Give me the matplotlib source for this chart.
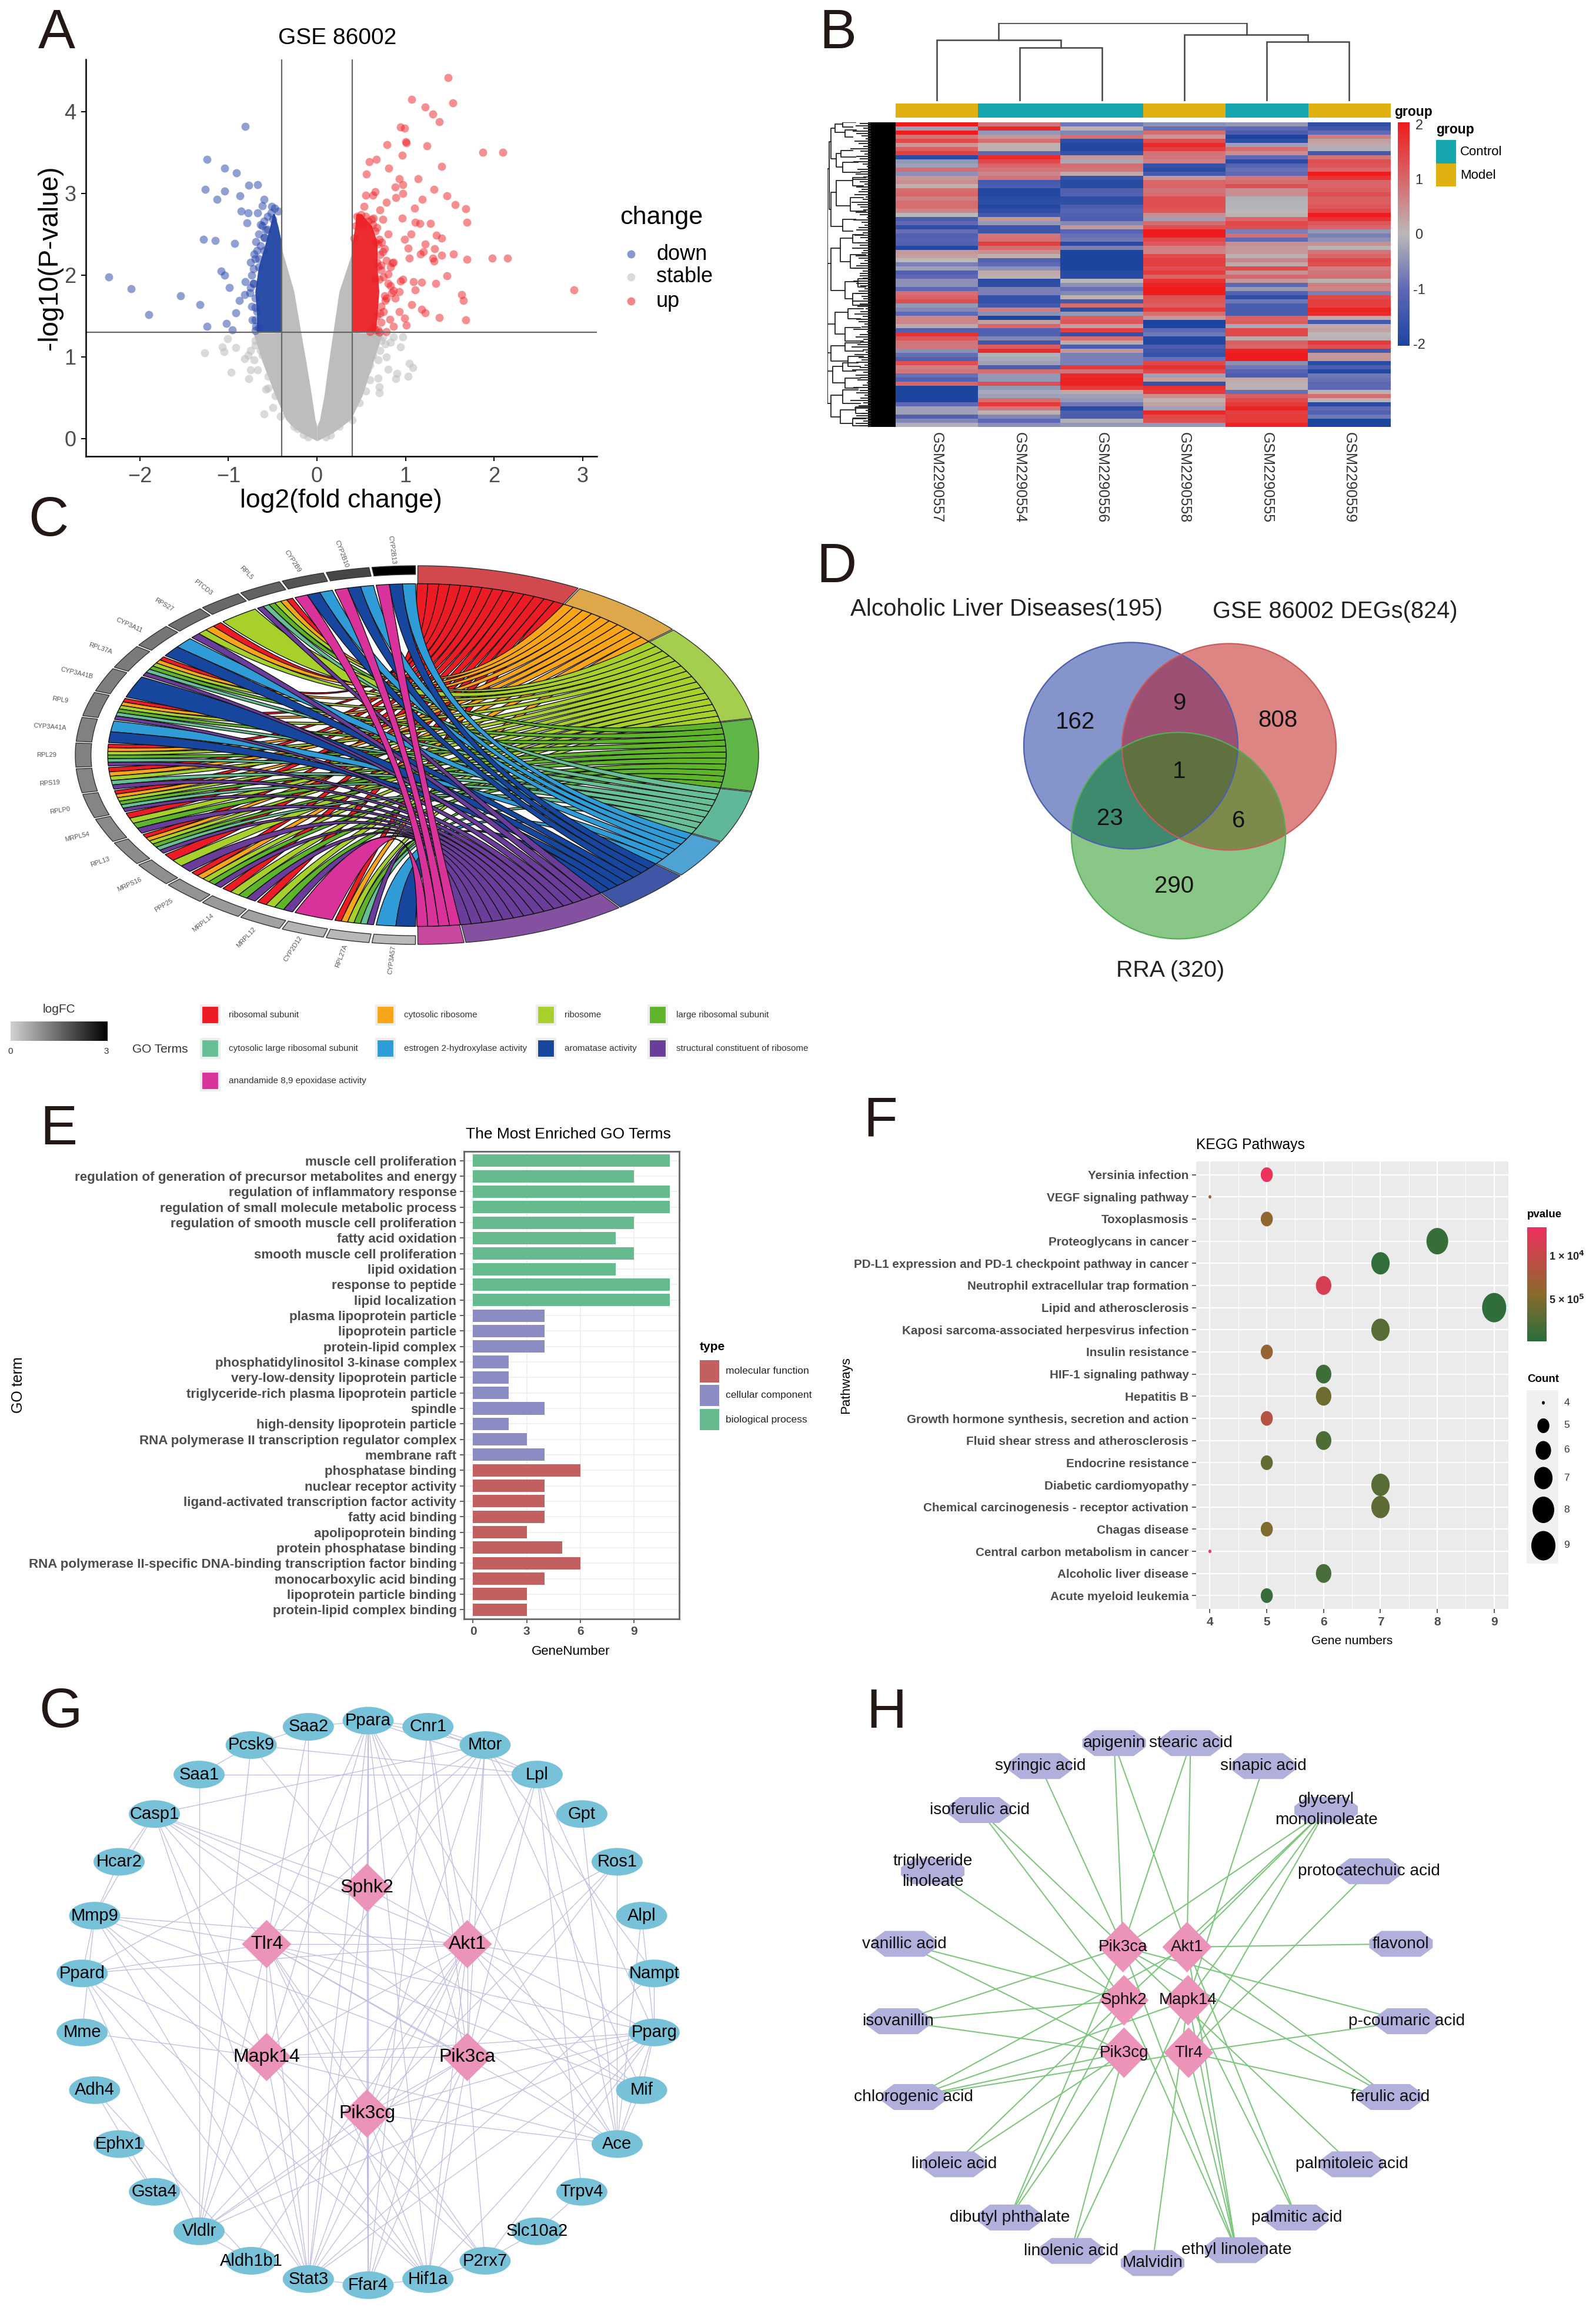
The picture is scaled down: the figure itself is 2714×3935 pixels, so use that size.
import numpy as np
import matplotlib
matplotlib.use("Agg")
import matplotlib.pyplot as plt
from matplotlib.colors import LinearSegmentedColormap
from matplotlib.markers import MarkerStyle
from matplotlib.patches import Ellipse, PathPatch, Polygon, Rectangle
from matplotlib.path import Path
from matplotlib.transforms import Affine2D

plt.rcParams["font.family"] = ["Liberation Sans", "DejaVu Sans"]

W, H = 2714, 3935

# A: volcano plot
up_x = [1.48, 1.07, 1.53, 1.22, 1.31, 1.38, .94, .99, 1.00, 1.01, .79, 1.24, 1.87, 2.10, .96, .67, .59, .81, 1.41, .56,
        1.14, .93, .97, .88, 1.32, .66, .97, .63, .55, 1.47, .89, 1.19, .78, 1.56, .53, 1.10, .71, 1.68, .96, .74, .62,
        1.11, 1.16, 1.28, 1.69, .80, 1.06, 1.35, 1.41, .99, .69, 1.22, 1.03, 1.33, 1.20, 1.17, 1.41, 1.54, 1.04, 1.31,
        1.32, 1.69, 1.98, 2.15, .85, .69, 1.47, .97, .94, 1.09, 1.18, 1.34, .83, 1.11, .93, 1.63, 2.90, 1.65, 1.07, .93,
        1.18, 1.22, 1.38, 1.68, .99, .82, 1.01, .86, .78, .66, .74, .80, .86, .77, .71, .69, .72, .64, .76, .70,
        .45, .50, .55, .48, .58, .63, .68, .52, .70, .73, .66, .76, .71, .78, .68, .72, .83, .86, .75, .66, .80, .84, .88,
        .78, .72, .75, .68, .72, .64, .66, .60, .70, .42, .44]
up_y = [4.42, 4.15, 4.11, 4.06, 3.97, 3.88, 3.81, 3.80, 3.63, 3.62, 3.60, 3.58, 3.50, 3.50, 3.47, 3.42, 3.39, 3.31, 3.33,
        3.24, 3.18, 3.18, 3.11, 3.08, 3.05, 3.02, 3.00, 2.98, 2.98, 2.97, 2.95, 2.93, 2.89, 2.86, 2.84, 2.82, 2.80, 2.81,
        2.70, 2.68, 2.68, 2.65, 2.63, 2.63, 2.65, 2.50, 2.50, 2.49, 2.45, 2.44, 2.38, 2.38, 2.33, 2.32, 2.29, 2.26, 2.24,
        2.26, 2.21, 2.21, 2.17, 2.19, 2.21, 2.21, 2.15, 2.11, 1.99, 1.95, 1.93, 1.92, 1.91, 1.90, 1.87, 1.82, 1.80, 1.76,
        1.82, 1.69, 1.64, 1.55, 1.58, 1.54, 1.48, 1.45, 1.47, 1.46, 1.39, 1.37, 1.31, 2.54, 2.29, 2.01, 1.81, 1.69, 1.53,
        1.33, 2.12, 2.70, 1.75, 1.95,
        2.72, 2.74, 2.72, 2.66, 2.66, 2.62, 2.58, 2.60, 2.44, 2.40, 2.40, 2.32, 2.25, 2.18, 2.16, 2.06, 2.10, 2.16, 1.98, 1.95,
        1.90, 1.78, 1.72, 1.72, 1.62, 1.55, 1.50, 1.42, 1.38, 1.33, 1.31, 1.30, 2.45, 2.60]
down_x = [-.81, -1.24, -1.04, -.91, -1.26, -1.04, -.77, -.67, -.87, -1.13, -.60, -.62, -.51, -.86, -.78, -.67, -.79, -.64,
          -1.28, -1.15, -.93, -.69, -.59, -.71, -.75, -1.08, -1.04, -.81, -.99, -.75, -2.35, -2.10, -1.54, -1.90, -1.32,
          -.82, -.88, -.92, -1.02, -1.24, -.96, -.69, -.72, -.70, -.66, -.73, -.58, -.60,
          -.48, -.52, -.56, -.60, -.50, -.62, -.56, -.66, -.60, -.64, -.68, -.70, -.72, -.66, -.74, -.72, -.76, -.70, -.74,
          -.68, -.70, -.66, -.70, -.44]
down_y = [3.82, 3.42, 3.31, 3.25, 3.05, 3.03, 3.10, 3.11, 2.97, 2.93, 2.93, 2.85, 2.84, 2.78, 2.76, 2.76, 2.64, 2.62,
          2.44, 2.42, 2.39, 2.41, 2.46, 2.26, 2.16, 2.05, 2.00, 1.92, 1.85, 1.85, 1.98, 1.83, 1.75, 1.52, 1.64, 1.76,
          1.69, 1.54, 1.41, 1.37, 1.33, 1.37, 1.90, 1.60, 2.20, 1.45, 2.55, 2.30,
          2.82, 2.76, 2.72, 2.66, 2.68, 2.60, 2.56, 2.50, 2.46, 2.36, 2.30, 2.20, 2.08, 2.10, 2.00, 1.90, 1.78, 1.72, 1.62,
          1.55, 1.45, 1.36, 1.32, 2.78]
stable_x = [-1.01, -1.07, -.92, -1.05, -1.27, -.97, -.75, -.77, -.60, -.50, -.70, -.64, -.58, -.71, -.67, -.55, -.58, -.47,
            .86, .97, .77, .94, .71, .69, .80, 1.04, 1.08, .90, 1.03, .89, .69, .70, .70, .48, .48, .40, -.26, -.41, -.35,
            -.52, .57, .63, .48, .57, .74, .83, -.61, -.52, -.70, -.75,
            -.45, -.55, -.62, -.40, -.48, -.55, -.42, -.38, -.30, -.22, -.15, -.10, -.66, -.78, -.82,
            .45, .55, .60, .52, .45, .40, .32, .25, .15, .10, .66, .72, .78, .60, .55]
stable_y = [1.22, 1.12, 1.11, 1.06, 1.05, .81, .84, .73, .30, .38, 1.14, 1.08, .96, .96, .84, .76, .60, .52,
            1.24, 1.24, 1.16, 1.12, 1.08, .96, .85, .92, .87, .80, .76, .73, .74, .63, .56, .66, .44, .23, .15, .27, .40,
            .92, .84, 1.02, 1.08, 1.16, 1.24, 1.18, 1.18, 1.24, 1.20, 1.08,
            1.25, 1.10, 1.02, .95, .80, .62, .62, .45, .30, .12, .05, .02, 1.25, 1.02, .98,
            1.26, 1.00, .90, .70, .58, .40, .28, .15, .04, .02, 1.15, 1.20, 1.00, .72, .58]
# edges of the solid part of the cloud
band_y = [-.03, .07, .15, .23, .52, .92, 1.29, 1.29, 1.8, 2.29, 2.42]
band_left_out = [0, -.18, -.28, -.35, -.47, -.61, -.72, -.40, -.40, -.40, -.40]
band_left_in = [0, 0, 0, -.02, -.06, -.12, -.18, -.18, -.26, -.39, -.40]
band_right_in = [0, 0, 0, .03, .08, .13, .18, .18, .25, .40, .40]
band_right_out = [0, .18, .28, .38, .51, .63, .74, .40, .40, .40, .40]
dense_y = [1.30, 1.5, 1.8, 2.1, 2.4, 2.6, 2.75]
dense_up_left = [.40, .40, .40, .40, .40, .43, .44]
dense_up_right = [.66, .68, .70, .68, .68, .62, .50]
dense_down_left = [-.68, -.68, -.70, -.66, -.58, -.53, -.50]
dense_down_right = [-.40, -.40, -.40, -.40, -.40, -.44, -.48]

# B: heatmap, one list per sample, rows top to bottom
samples = ["GSM2290557", "GSM2290554", "GSM2290556", "GSM2290558", "GSM2290555", "GSM2290559"]
sample_group = ["Model", "Control", "Control", "Model", "Control", "Model"]
heat_557 = [2, -.3, 2, .8, 1.4, .4, 1.1, 1.5, -1.8, -.4, -.3, .9, -.5, .4, .5, .1, .9, 1, .7, .9, .9, .6, 0, -1.3, -1, -1.7,
            -.9, -1.2, -1.1, -1.2, -1.9, .4, .3, 0, -.7, -.3, -1.2,
            -1, -.5, -.5, -1, .9, 1, 1.3, -.4, -.6, -1, .6, .6, .2, -1.2, 1.7, 1.2, .8, .8, -.5, -.9, -1.2, 1.3, .7, .8, -.9,
            -1.2, 1, -2, -2, -2, -2, -1, -.3, -.3, -1.2, -.6, -.1]
heat_554 = [.8, 1.8, -.4, .4, .9, .1, .1, -1, 1.8, 1.4, 1, .8, .6, .8, -1.4, -1.3, -1.9, -1.9, -1.8, -1.7, -1.9, -1.7, -1.4,
            .4, -.4, -1.5, -1.5, .8, .9, 1.5, .9, .5, .1, -1.2, -1, -.5, .2,
            .1, -1.8, -1.7, -.7, -.7, -1.6, -1.6, -1.4, .7, -.5, -2, .3, 1, -1.2, -1.2, -.6, -1.5, 1.1, 1.8, -.1, -.2, -.3,
            -1.3, .9, -.4, -.4, 1.3, -.4, -.2, -.3, .9, 1.6, .8, .1, -.6, -1, -.5]
heat_556 = [-.8, .1, -.6, .9, -1.7, -1.9, -1.9, -1.6, .4, -.2, .9, .8, .2, -1.6, -1.8, -1.8, -1.2, -1.2, -1.7, -1.7, -1.3,
            -1.1, -1.2, -1.3, -.6, .4, -1.1, -.9, -.8, -1.8, -.7, -2, -2, -2, -2, -2, -1.8,
            -1.8, 0, -.5, -.9, -.6, .1, -1.4, .9, -1.7, -.4, 1.1, 1.2, .3, 1.5, -1.6, .9, .2, -1.3, .4, -.7, -.7, -.7, 1.6,
            .8, 1.8, 1.9, 1.9, 1.6, .2, -.3, -.4, -.8, -1.8, -1.3, -1.3, -.1, -.4]
heat_558 = [-.5, -.9, .9, .4, 1.3, 1.8, 1.5, .8, .8, .7, -1.6, -1.8, -1.4, .4, 1, 1, .8, .9, 1.3, 1.3, 1.3, 1.2, .5, -.3, .9,
            1.3, 2, 2, 1.4, 1.2, .7, .6, 1.4, 1.5, 1.5, 1.3, 1.5,
            1, 1.7, 1.9, 2, 2, 1.3, 1.2, 1.1, 1.6, .9, .4, -2, -2, -1, -.8, -1.9, -1.9, -1.3, -1.5, -1.6, -.9, 1.4, 1.7, 1.4,
            -.3, .3, -1.6, 1.7, 1.6, .5, .1, .3, -.3, 1.8, 1.4, 1.3, -.4]
heat_555 = [-.4, -1, -1.3, -2, -1.7, -.3, .9, .5, -1, -1.8, -1.1, -.9, -1, .8, .9, 1.3, .5, .5, -.1, -.05, -.05, 0, .1, 1, 1.4,
            1.3, -.7, .9, -1, .5, .4, .4, .1, .6, .2, 1.4, .5,
            1, .4, -1, -.4, -1.2, -1.7, -.8, -1.3, -1.3, -1.3, 1.1, 1.1, -.2, 1.4, 1.4, .2, 1.1, 1, 1.9, 2, 2, -.5, -.8, -1.1,
            -1.3, .2, .1, .1, -.9, 1.1, 1.4, 1.6, 1.9, 1.5, 1.6, 1.6, 1.9]
heat_559 = [-1.7, -1.5, -1, .7, .3, .2, -.1, -1.4, .8, 1.3, 1.2, 1, 2, 1.7, 1, 1, 1.1, 1.3, 1.1, 1.1, 1.2, 1.4, 2, 1.7, 1.2,
            1, -.4, -.7, -.5, .5, .1, .8, 1, 1.4, 1.3, .7, .8,
            .9, .1, .7, .6, -.7, 1.4, 1.5, 1.5, 1.9, 1.8, .2, -1.4, .2, .3, 0, .1, 1.6, 1.3, -1.4, .4, .4, -1.8, -1.3, -1.9,
            -.8, -.9, -1, -1, .1, .9, .1, -1.8, -1, -1.2, -.8, -2, -2]
col_merges = [(433, 595, 0, 0, 158), (270, 514, 0, 158, 182), (920, 1082, 0, 0, 176), (758, 1001, 0, 176, 197), (392, 880, 182, 197, 232)]
row_merges = [(55, 500, 58, 1000, 55), (58, 420, 62, 620, 62), (62, 380, 70, 470, 72), (70, 368, 85, 392, 90), (85, 362, 110, 376, 105),
              (90, 385, 112, 405, 105), (72, 455, 82, 495, 85), (82, 445, 105, 465, 110), (85, 480, 115, 510, 120), (62, 570, 72, 670, 85),
              (72, 535, 105, 610, 100), (105, 525, 130, 550, 125), (100, 585, 125, 625, 130), (85, 650, 110, 685, 105), (55, 780, 62, 1195, 55),
              (62, 735, 80, 860, 90), (80, 705, 105, 775, 100), (105, 695, 125, 720, 120), (100, 755, 130, 795, 125), (90, 835, 115, 885, 105),
              (115, 825, 135, 850, 130), (105, 870, 130, 905, 135), (55, 960, 70, 1045, 62), (70, 925, 95, 990, 90), (95, 915, 125, 945, 120),
              (90, 970, 120, 1010, 125), (62, 1025, 90, 1070, 95), (90, 1015, 120, 1040, 125), (95, 1055, 125, 1085, 120), (55, 1100, 65, 1195, 62),
              (65, 1085, 85, 1135, 90), (85, 1075, 115, 1100, 110), (90, 1120, 120, 1150, 115), (62, 1170, 85, 1235, 80), (85, 1155, 115, 1195, 120),
              (80, 1215, 110, 1255, 105), (110, 1205, 135, 1225, 130), (105, 1240, 130, 1262, 135)]
row_fringe = [118, 110, 125, 105, 112, 122, 130, 108, 116, 126, 100, 120, 128, 112, 118, 106, 124, 132, 114, 120, 110, 126,
              104, 118, 128, 112, 122, 116, 108, 130, 124, 102, 114, 120, 126, 110, 118, 132, 106, 122, 128, 116, 112, 124,
              108, 120, 130, 114, 118, 104, 126, 122, 110, 116, 128, 120, 112, 106, 124, 118]

# C: GO chord, genes listed clockwise from the bottom, terms clockwise from the top
go_terms = ["ribosomal subunit", "cytosolic ribosome", "ribosome", "large ribosomal subunit", "cytosolic large ribosomal subunit",
            "estrogen 2-hydroxylase activity", "aromatase activity", "structural constituent of ribosome", "anandamide 8,9 epoxidase activity"]
term_keys = ["red", "ora", "lim", "gre", "tea", "lbl", "dbl", "pur", "mag"]
ribbon_colors = ["#ed1c24", "#f9a51a", "#a8d02a", "#5fb52a", "#66bf95", "#2f9bd7", "#17469e", "#6a3d9a", "#d9329b"]
sector_colors = ["#d1484d", "#dda74a", "#a5cd4e", "#5fb548", "#5fb898", "#4ea2d4", "#3f55a5", "#85509f", "#c848a0"]
chord_genes = ["CYP3A57", "RPL27A", "CYP2D12", "MRPL12", "MRPL14", "PPP25", "MRPS16", "RPL13", "MRPL54", "RPLP0", "RPS19", "RPL29",
               "CYP3A41A", "RPL9", "CYP3A41B", "RPL37A", "CYP3A11", "RPS27", "PTCD3", "RPL5", "CYP2B9", "CYP2B10", "CYP2B13"]
gene_logfc = [.35, .38, .45, .7, .8, .9, .95, 1, 1.05, 1.1, 1.1, 1.15, 1.15, 1.2, 1.2, 1.25, 1.3, 1.4, 1.5, 1.6, 1.8, 2.0, 3.0]
ribo_full = ["pur", "tea", "gre", "lim", "ora", "red"]
gene_terms = [["dbl", "lbl"], ribo_full, ["mag"], ["pur", "gre", "lim", "red"], ["pur", "gre", "lim", "red"], ["pur", "gre", "lim", "ora", "red"],
              ["pur", "lim", "red"], ribo_full, ["pur", "gre", "lim", "red"], ribo_full, ["pur", "tea", "lim", "ora", "red"], ribo_full,
              ["dbl", "lbl"], ribo_full, ["dbl"], ribo_full, ["dbl", "lbl"], ["pur", "lim", "ora", "red"], ["lim"], ribo_full,
              ["mag", "dbl", "lbl"], ["mag", "dbl", "lbl"], ["mag", "dbl", "lbl"]]

# D: venn counts
venn_counts = ["162", "9", "808", "1", "23", "6", "290"]

# E: GO bars
go_labels = ["muscle cell proliferation", "regulation of generation of precursor metabolites and energy", "regulation of inflammatory response",
             "regulation of small molecule metabolic process", "regulation of smooth muscle cell proliferation", "fatty acid oxidation",
             "smooth muscle cell proliferation", "lipid oxidation", "response to peptide", "lipid localization", "plasma lipoprotein particle",
             "lipoprotein particle", "protein-lipid complex", "phosphatidylinositol 3-kinase complex", "very-low-density lipoprotein particle",
             "triglyceride-rich plasma lipoprotein particle", "spindle", "high-density lipoprotein particle", "RNA polymerase II transcription regulator complex",
             "membrane raft", "phosphatase binding", "nuclear receptor activity", "ligand-activated transcription factor activity", "fatty acid binding",
             "apolipoprotein binding", "protein phosphatase binding", "RNA polymerase II-specific DNA-binding transcription factor binding",
             "monocarboxylic acid binding", "lipoprotein particle binding", "protein-lipid complex binding"]
go_counts = [11, 9, 11, 11, 9, 8, 9, 8, 11, 11, 4, 4, 4, 2, 2, 2, 4, 2, 3, 4, 6, 4, 4, 4, 3, 5, 6, 4, 3, 3]
go_type = ["bp"] * 10 + ["cc"] * 10 + ["mf"] * 10
type_names = ["molecular function", "cellular component", "biological process"]

# F: KEGG bubbles
kegg_labels = ["Yersinia infection", "VEGF signaling pathway", "Toxoplasmosis", "Proteoglycans in cancer",
               "PD-L1 expression and PD-1 checkpoint pathway in cancer", "Neutrophil extracellular trap formation", "Lipid and atherosclerosis",
               "Kaposi sarcoma-associated herpesvirus infection", "Insulin resistance", "HIF-1 signaling pathway", "Hepatitis B",
               "Growth hormone synthesis, secretion and action", "Fluid shear stress and atherosclerosis", "Endocrine resistance",
               "Diabetic cardiomyopathy", "Chemical carcinogenesis - receptor activation", "Chagas disease", "Central carbon metabolism in cancer",
               "Alcoholic liver disease", "Acute myeloid leukemia"]
kegg_counts = [5, 4, 5, 8, 7, 6, 9, 7, 5, 6, 6, 5, 6, 5, 7, 7, 5, 4, 6, 5]
kegg_p = [13.1, 6.8, 6.1, .9, .7, 11.4, .5, 2.8, 6.5, 1.3, 4.2, 8.8, 2.2, 3.5, 2.8, 3.1, 5.2, 13.4, 1.9, .9]  # x 1e-5
count_levels = [4, 5, 6, 7, 8, 9]

# G and H: networks
ppi_outer = ["Ppara", "Cnr1", "Mtor", "Lpl", "Gpt", "Ros1", "Alpl", "Nampt", "Pparg", "Mif", "Ace", "Trpv4", "Slc10a2", "P2rx7", "Hif1a",
             "Ffar4", "Stat3", "Aldh1b1", "Vldlr", "Gsta4", "Ephx1", "Adh4", "Mme", "Ppard", "Mmp9", "Hcar2", "Casp1", "Saa1", "Pcsk9", "Saa2"]
ppi_hubs = ["Sphk2", "Akt1", "Pik3ca", "Pik3cg", "Mapk14", "Tlr4"]
ppi_hub_links = {
    "Akt1": ["Ppara", "Cnr1", "Mtor", "Lpl", "Casp1", "Mmp9", "Ppard", "Nampt", "Pparg", "Mif", "Ace", "Stat3", "Hif1a", "Ffar4", "Vldlr",
             "Aldh1b1", "Ros1", "Tlr4", "Sphk2", "Pik3ca", "Pik3cg", "Mapk14"],
    "Tlr4": ["Ppara", "Mtor", "Saa2", "Casp1", "Mmp9", "Ppard", "Pparg", "Mif", "Ace", "Stat3", "Hif1a", "P2rx7", "Vldlr", "Mapk14", "Pik3ca", "Pik3cg"],
    "Mapk14": ["Ppara", "Mtor", "Mmp9", "Casp1", "Ppard", "Mme", "Pparg", "Ace", "Stat3", "Hif1a", "P2rx7", "Vldlr", "Pik3ca"],
    "Pik3ca": ["Ppara", "Cnr1", "Mtor", "Lpl", "Ros1", "Pparg", "Stat3", "Hif1a", "Ffar4", "P2rx7", "Vldlr", "Mmp9", "Pik3cg"],
    "Pik3cg": ["Ppara", "Mtor", "Pparg", "Ros1", "Stat3", "Hif1a", "P2rx7", "Vldlr", "Ffar4", "Ace"],
    "Sphk2": ["Ppara", "Pcsk9", "Casp1", "Stat3", "Ffar4"],
}
ppi_other_links = [("Saa1", "Lpl"), ("Saa1", "Vldlr"), ("Saa1", "Pcsk9"), ("Pcsk9", "Saa2"), ("Saa2", "Ppara"), ("Ppara", "Cnr1"), ("Cnr1", "Mtor"),
                   ("Ppara", "Mtor"), ("Ppara", "Lpl"), ("Cnr1", "Lpl"), ("Pcsk9", "Lpl"), ("Pcsk9", "Vldlr"), ("Saa2", "Stat3"), ("Mtor", "Casp1"),
                   ("Mtor", "Ppard"), ("Lpl", "Pparg"), ("Lpl", "Ace"), ("Lpl", "Trpv4"), ("Cnr1", "Ffar4"), ("Ppara", "Ffar4"), ("Ppara", "Stat3"),
                   ("Ppara", "Hif1a"), ("Ppara", "Ace"), ("Gpt", "Ace"), ("Ros1", "Ace"), ("Alpl", "Pparg"), ("Alpl", "Ace"), ("Nampt", "Pparg"),
                   ("Nampt", "Mtor"), ("Nampt", "Stat3"), ("Pparg", "Stat3"), ("Pparg", "Hif1a"), ("Pparg", "P2rx7"), ("Pparg", "Vldlr"), ("Pparg", "Mif"),
                   ("Pparg", "Ace"), ("Mif", "Ace"), ("Mif", "Mtor"), ("Mif", "Casp1"), ("Ace", "Casp1"), ("Slc10a2", "P2rx7"), ("Slc10a2", "Trpv4"),
                   ("P2rx7", "Hif1a"), ("Hif1a", "Ffar4"), ("Ffar4", "Stat3"), ("Stat3", "Casp1"), ("Stat3", "Mmp9"), ("Stat3", "Ppard"), ("Hif1a", "Mmp9"),
                   ("Hif1a", "Ppard"), ("Vldlr", "Ppard"), ("Vldlr", "Aldh1b1"), ("Adh4", "Gsta4"), ("Adh4", "Aldh1b1"), ("Ephx1", "Gsta4"), ("Casp1", "Hcar2"),
                   ("Casp1", "Mmp9"), ("Hcar2", "Mmp9"), ("Mmp9", "Ppard"), ("Mmp9", "Mme")]

herb_nodes = {
    "apigenin": (590, 152), "stearic acid": (745, 152), "syringic acid": (440, 209), "sinapic acid": (893, 209), "isoferulic acid": (317, 318),
    "glyceryl\nmonolinoleate": (1020, 318), "triglyceride\nlinoleate": (222, 470), "protocatechuic acid": (1107, 470), "vanillic acid": (165, 650),
    "flavonol": (1172, 650), "isovanillin": (152, 842), "p-coumaric acid": (1184, 842), "chlorogenic acid": (183, 1030), "ferulic acid": (1150, 1030),
    "linoleic acid": (265, 1197), "palmitoleic acid": (1072, 1197), "dibutyl phthalate": (378, 1329), "palmitic acid": (960, 1329),
    "linolenic acid": (503, 1412), "ethyl linolenate": (838, 1410), "Malvidin": (668, 1442),
}
herb_hubs = {"Pik3ca": (608, 658), "Akt1": (738, 658), "Sphk2": (610, 790), "Mapk14": (740, 790), "Pik3cg": (610, 920), "Tlr4": (741, 920)}
herb_links = {
    "apigenin": ["Pik3ca", "Akt1"], "stearic acid": ["Pik3ca", "Akt1"], "syringic acid": ["Pik3ca"], "sinapic acid": ["Mapk14"],
    "isoferulic acid": ["Pik3ca", "Sphk2"], "glyceryl\nmonolinoleate": ["Pik3ca", "Akt1", "Sphk2", "Mapk14", "Tlr4"], "triglyceride\nlinoleate": ["Sphk2"],
    "protocatechuic acid": ["Tlr4"], "vanillic acid": ["Sphk2", "Pik3cg"], "flavonol": ["Akt1"], "isovanillin": ["Pik3ca", "Sphk2", "Pik3cg"],
    "p-coumaric acid": ["Pik3ca", "Tlr4"], "chlorogenic acid": ["Akt1", "Mapk14", "Pik3cg", "Tlr4"], "ferulic acid": ["Pik3ca", "Akt1", "Tlr4"],
    "linoleic acid": ["Pik3cg", "Sphk2"], "palmitoleic acid": ["Pik3ca"], "dibutyl phthalate": ["Pik3ca", "Pik3cg", "Sphk2"], "palmitic acid": ["Akt1", "Mapk14"],
    "linolenic acid": ["Pik3cg", "Mapk14"], "ethyl linolenate": ["Pik3ca", "Sphk2", "Mapk14", "Tlr4", "Akt1"], "Malvidin": ["Mapk14"],
}

fig = plt.figure(figsize=(W / 100, H / 100), dpi=100, facecolor="white")


def px_axes(x0, y0, x1, y1):
    return fig.add_axes([x0 / W, 1 - y1 / H, (x1 - x0) / W, (y1 - y0) / H])


# whole-page axes in pixels, used for networks, the chord ring, venn and free text
ov = fig.add_axes([0, 0, 1, 1])
ov.set_xlim(0, W)
ov.set_ylim(H, 0)
ov.axis("off")

for letter, lx, ly in [("A", 96, 58), ("B", 1425, 58), ("C", 82, 886), ("D", 1422, 966), ("E", 100, 1922), ("F", 1497, 1907), ("G", 103, 2913), ("H", 1507, 2913)]:
    ov.text(lx, ly, letter, fontsize=68, color="#231815", ha="center", va="center")

# ---- A
ax = px_axes(146, 101, 1015, 776)
blue, red, grey = "#2343a8", "#ee2026", "#bdbdbd"
ax.fill_betweenx(band_y, band_left_out, band_left_in, color=grey, lw=0)
ax.fill_betweenx(band_y, band_right_in, band_right_out, color=grey, lw=0)
ax.scatter(stable_x, stable_y, s=100, c=grey, alpha=.55, lw=0)
ax.fill_betweenx(dense_y, dense_up_left, dense_up_right, color="#ea2027", lw=0, alpha=.95)
ax.fill_betweenx(dense_y, dense_down_left, dense_down_right, color="#1f45a3", lw=0, alpha=.95)
ax.scatter(down_x, down_y, s=100, c=blue, alpha=.5, lw=0)
ax.scatter(up_x, up_y, s=100, c=red, alpha=.5, lw=0)
ax.axvline(-.4, color="#666666", lw=1.6)
ax.axvline(.4, color="#666666", lw=1.6)
ax.axhline(1.3, color="#666666", lw=1.6)
ax.set_xlim(-2.61, 3.16)
ax.set_ylim(-.218, 4.64)
ax.spines[["top", "right"]].set_visible(False)
ax.spines[["left", "bottom"]].set_linewidth(1.8)
ax.set_xticks(range(-2, 4))
ax.set_yticks(range(0, 5))
ax.tick_params(labelsize=26, labelcolor="#4d4d4d", length=6, width=1.4, pad=6)
ov.text(580, 851, "log2(fold change)", fontsize=32, ha="center", va="center")
ov.text(85, 438, "-log10(P-value)", fontsize=33, rotation=90, ha="center", va="center")
ov.text(574, 65, "GSE 86002", fontsize=28, ha="center", va="center")
ov.text(1054, 370, "change", fontsize=31, ha="left", va="center")
for name, col, ly in [("down", blue, 432), ("stable", grey, 471), ("up", red, 512)]:
    ov.scatter([1073], [ly], s=100, c=col, alpha=.55, lw=0)
    ov.text(1116, ly, name, fontsize=26, ha="left", va="center")

# ---- B
heat = np.array([heat_557, heat_554, heat_556, heat_558, heat_555, heat_559]).T
heat_cmap = LinearSegmentedColormap.from_list("heat", ["#1c45a0", "#5f68b5", "#b9b9b9", "#d9666a", "#ee1c1c"])
ax = px_axes(1523, 208, 2365, 726)
ax.imshow(heat, aspect="auto", cmap=heat_cmap, vmin=-2, vmax=2, interpolation="nearest")
ax.axis("off")
ax = px_axes(1523, 176, 2365, 200)
group_colors = {"Model": "#e0b010", "Control": "#16a6ad"}
for i, grp in enumerate(sample_group):
    ax.add_patch(Rectangle((i, 0), 1, 1, color=group_colors[grp], lw=0))
ax.set_xlim(0, 6)
ax.set_ylim(0, 1)
ax.axis("off")
# column dendrogram
ax = px_axes(1523, 39, 2365, 172)
for x1, x2, h1, h2, top in col_merges:
    ax.plot([x1, x1, x2, x2], [h1, top, top, h2], color="#444444", lw=1.8, solid_joinstyle="miter")
ax.set_xlim(189, 1164)
ax.set_ylim(0, 232)
ax.axis("off")
# row dendrogram with its dense black leaf block
ax = px_axes(1407, 208, 1523, 726)
fringe = row_fringe + row_fringe[::-1]
rows_y = np.linspace(365, 1262, len(fringe))
ax.hlines(rows_y, fringe, 140, color="#333333", lw=1.5)
for x, y1, x1, y2, x2 in row_merges:
    ax.plot([x1, x, x, x2], [y1, y1, y2, y2], color="#222222", lw=1.3)
ax.add_patch(Rectangle((135, 362), 54, 903, color="black", lw=0))
ax.set_xlim(55, 189)
ax.set_ylim(1265, 362)
ax.axis("off")
# colour bar
ax = px_axes(2377, 208, 2397, 588)
ax.imshow(np.linspace(2, -2, 256)[:, None], aspect="auto", cmap=heat_cmap, vmin=-2, vmax=2)
ax.axis("off")
for val, ly in zip(["2", "1", "0", "-1", "-2"], [214, 307, 400, 494, 587]):
    ov.text(2413, ly, val, fontsize=17, color="#333333", ha="center", va="center")
ov.text(2371, 191, "group", fontsize=16.5, fontweight="bold", ha="left", va="center")
ov.text(2442, 221, "group", fontsize=16.5, fontweight="bold", ha="left", va="center")
ov.add_patch(Rectangle((2442, 238), 34, 40, color=group_colors["Control"], lw=0))
ov.add_patch(Rectangle((2442, 278), 34, 39, color=group_colors["Model"], lw=0))
ov.text(2483, 259, "Control", fontsize=16, ha="left", va="center")
ov.text(2483, 298, "Model", fontsize=16, ha="left", va="center")
for i, name in enumerate(samples):
    ov.text(1523 + (i + .5) * 842 / 6, 735, name, fontsize=18, rotation=270, color="#333333", ha="center", va="top")

# ---- C
cx, cy, rx, ry = 709, 1284, 581, 322
r_ribbon = .905
r_gene = .954


def ring_xy(deg, r):
    t = np.radians(deg)
    return cx + rx * r * np.cos(t), cy - ry * r * np.sin(t)


def ring_sector(a, b, r0, r1, **kw):
    ts = np.linspace(a, b, 30)
    outer = [ring_xy(t, r1) for t in ts]
    inner = [ring_xy(t, r0) for t in ts[::-1]]
    ov.add_patch(Polygon(outer + inner, closed=True, **kw))


term_count = {k: sum(k in g for g in gene_terms) for k in term_keys}
total = sum(term_count.values())
term_start = {}
pos = 0
for k, col in zip(term_keys, sector_colors):
    a = 90 - 180 * pos / total
    b = 90 - 180 * (pos + term_count[k]) / total
    term_start[k] = a
    ring_sector(a - .15, b + .15, r_ribbon, 1, facecolor=col, edgecolor="#333333", lw=1)
    pos += term_count[k]

n_genes = len(chord_genes)
grey_fc = LinearSegmentedColormap.from_list("fc", ["#d2d2d2", "#000000"])
order_in_gene = ["mag", "pur", "dbl", "lbl", "tea", "gre", "lim", "ora", "red"]
term_step = 180 / total
used = {k: 0 for k in term_keys}
ribbons = []
# top genes take the first slot of each term
gene_slots = {}
for i in range(n_genes - 1, -1, -1):
    for k in gene_terms[i]:
        gene_slots[(i, k)] = used[k]
        used[k] += 1
for i, gene in enumerate(chord_genes):
    a0 = 270 - 180 * i / n_genes
    step = 180 / n_genes
    ring_sector(a0 - .25, a0 - step + .25, r_gene, 1, facecolor=grey_fc(gene_logfc[i] / 3), edgecolor="#333333", lw=1)
    mid = a0 - step / 2
    lx, ly = ring_xy(mid, 1.085)
    dx, dy = rx * np.cos(np.radians(mid)), ry * np.sin(np.radians(mid))
    ov.text(lx, ly, gene, fontsize=8, color="#555555", rotation=np.degrees(np.arctan2(dy, dx)) + 180, ha="center", va="center", rotation_mode="anchor")
    terms_here = [k for k in order_in_gene if k in gene_terms[i]]
    w = (step - .5) / len(terms_here)
    for j, k in enumerate(terms_here):
        g_a = a0 - .25 - j * w
        g_b = g_a - w
        t_a = term_start[k] - gene_slots[(i, k)] * term_step
        t_b = t_a - term_step
        ribbons.append((term_keys.index(k), g_a, g_b, t_a, t_b))

for idx, g_a, g_b, t_a, t_b in sorted(ribbons, key=lambda q: q[0]):
    gene_arc = [ring_xy(t, r_ribbon) for t in np.linspace(g_a, g_b, 8)]
    term_arc = [ring_xy(t, r_ribbon) for t in np.linspace(t_a, t_b, 8)]
    verts = gene_arc + [(cx, cy), term_arc[0]] + term_arc[1:] + [(cx, cy), gene_arc[0]]
    codes = [Path.MOVETO] + [Path.LINETO] * 7 + [Path.CURVE3, Path.CURVE3] + [Path.LINETO] * 7 + [Path.CURVE3, Path.CURVE3]
    ov.add_patch(PathPatch(Path(verts, codes), facecolor=ribbon_colors[idx], edgecolor="#111111", lw=1))

# chord legends
ax = px_axes(18, 1737, 183, 1770)
ax.imshow(np.linspace(0, 1, 256)[None, :], aspect="auto", cmap=grey_fc)
ax.axis("off")
ov.text(100, 1717, "logFC", fontsize=15, ha="center", va="center", color="#333333")
ov.text(18, 1788, "0", fontsize=11, ha="center", va="center", color="#333333")
ov.text(181, 1788, "3", fontsize=11, ha="center", va="center", color="#333333")
ov.text(225, 1784, "GO Terms", fontsize=15, ha="left", va="center", color="#333333")
legend_cols = [342, 640, 913, 1103]
legend_rows = [1726, 1783, 1838]
for i, (name, col) in enumerate(zip(go_terms, ribbon_colors)):
    x0 = legend_cols[i % 4]
    yc = legend_rows[i // 4]
    ov.add_patch(Rectangle((x0, yc - 16), 31, 32, facecolor=col, edgecolor="#eeeeee", lw=3))
    ov.text(x0 + 47, yc, name, fontsize=11, color="#333333", ha="left", va="center")

# ---- D
venn_centres = [(1923, 1268), (2090, 1270), (2004, 1421)]
venn_w, venn_h = 364, 351


def inside(pts, c):
    return ((pts[:, 0] - c[0]) / (venn_w / 2)) ** 2 + ((pts[:, 1] - c[1]) / (venn_h / 2)) ** 2 <= 1


def overlap(ids):
    # the set overlaps are convex, so boundary points sorted by angle give the outline
    t = np.linspace(0, 2 * np.pi, 1440)
    keep = []
    for i in ids:
        c = venn_centres[i]
        pts = np.c_[c[0] + venn_w / 2 * np.cos(t), c[1] + venn_h / 2 * np.sin(t)]
        for j in ids:
            if j != i:
                pts = pts[inside(pts, venn_centres[j])]
        keep.append(pts)
    pts = np.vstack(keep)
    mid = pts.mean(axis=0)
    return pts[np.argsort(np.arctan2(pts[:, 1] - mid[1], pts[:, 0] - mid[0]))]


for c, fc in zip(venn_centres, ["#8694cc", "#dd8583", "#89c786"]):
    ov.add_patch(Ellipse(c, venn_w, venn_h, facecolor=fc, edgecolor="none"))
for ids, fc in [((0, 1), "#9d5074"), ((0, 2), "#3e8a6e"), ((1, 2), "#7c8b4c"), ((0, 1, 2), "#5e713f")]:
    ov.add_patch(Polygon(overlap(ids), closed=True, facecolor=fc, edgecolor="none"))
for c, ec in zip(venn_centres, ["#4a5fb0", "#cc5a5c", "#57ab58"]):
    ov.add_patch(Ellipse(c, venn_w, venn_h, facecolor="none", edgecolor=ec, lw=1.6))
for label, (tx, ty) in zip(venn_counts, [(1829, 1228), (2005, 1196), (2173, 1225), (2005, 1312), (1887, 1392), (2106, 1396), (1997, 1507)]):
    ov.text(tx, ty, label, fontsize=29, ha="center", va="center", color="#111111")
ov.text(1711, 1036, "Alcoholic Liver Diseases(195)", fontsize=29, ha="center", va="center", color="#222222")
ov.text(2270, 1040, "GSE 86002 DEGs(824)", fontsize=28.7, ha="center", va="center", color="#222222")
ov.text(1990, 1651, "RRA (320)", fontsize=28.4, ha="center", va="center", color="#222222")

# ---- E
ax = px_axes(789, 1958, 1155, 2753)
type_colors = {"mf": "#c25f60", "cc": "#8c8cc4", "bp": "#66bb8e"}
ypos = np.arange(len(go_labels))
ax.set_axisbelow(True)
ax.grid(color="#efefef", lw=1.2)
ax.barh(ypos, go_counts, height=.8, color=[type_colors[t] for t in go_type])
ax.set_xlim(-.51, 11.54)
ax.set_ylim(len(go_labels) - .4, -.6)
ax.set_yticks(ypos)
ax.set_yticklabels(go_labels, fontsize=16.1, fontweight="bold", color="#4d4d4d")
ax.set_xticks([0, 3, 6, 9])
ax.set_xticklabels(["0", "3", "6", "9"], fontsize=15, fontweight="bold", color="#4d4d4d")
ax.tick_params(length=5, width=1.2, color="#444444", pad=4)
for sp in ax.spines.values():
    sp.set_color("#666666")
    sp.set_linewidth(2)
ov.text(966, 1929, "The Most Enriched GO Terms", fontsize=19, ha="center", va="center")
ov.text(971, 2808, "GeneNumber", fontsize=16, ha="center", va="center")
ov.text(31, 2355, "GO term", fontsize=18, rotation=90, ha="center", va="center")
ov.text(1190, 2290, "type", fontsize=15, fontweight="bold", ha="left", va="center")
for name, key, y0, y1 in zip(type_names, ["mf", "cc", "bp"], [2313, 2355, 2396], [2351, 2391, 2432]):
    ov.add_patch(Rectangle((1190, y0), 33, y1 - y0, color=type_colors[key], lw=0))
    ov.text(1234, (y0 + y1) / 2, name, fontsize=12.5, ha="left", va="center", color="#222222")

# ---- F
p_cmap = LinearSegmentedColormap.from_list("p", [(0, "#2a6e3c"), (.42, "#8c6a2d"), (1, "#f0305f")])
bubble = MarkerStyle(Path.unit_circle().transformed(Affine2D().scale(.82, 1)))
size_by_count = {4: 6, 5: 25, 6: 32, 7: 38, 8: 45, 9: 50}  # height in px
sizes = [(size_by_count[c] * .72) ** 2 for c in kegg_counts]
ax = px_axes(2034, 1975, 2565, 2736)
ax.set_facecolor("#ebebeb")
ax.set_axisbelow(True)
ax.grid(color="white", lw=1.6)
ax.set_xticks(np.arange(4.5, 9.5), minor=True)
ax.grid(which="minor", axis="x", color="white", lw=.7)
ax.tick_params(which="minor", length=0)
ypos = np.arange(len(kegg_labels))
ax.scatter(kegg_counts, ypos, s=sizes, c=kegg_p, cmap=p_cmap, vmin=.2, vmax=13.4, marker=bubble, lw=0)
ax.set_xlim(3.757, 9.25)
ax.set_ylim(19.6, -.6)
ax.set_yticks(ypos)
ax.set_yticklabels(kegg_labels, fontsize=14.9, fontweight="bold", color="#4d4d4d")
ax.set_xticks(range(4, 10))
ax.set_xticklabels([str(v) for v in range(4, 10)], fontsize=15, fontweight="bold", color="#4d4d4d")
ax.tick_params(which="major", length=5, width=1.2, color="#444444", pad=4)
for sp in ax.spines.values():
    sp.set_visible(False)
ov.text(2126, 1947, "KEGG Pathways", fontsize=17.7, ha="center", va="center")
ov.text(2299, 2791, "Gene numbers", fontsize=15, ha="center", va="center")
ov.text(1439, 2356, "Pathways", fontsize=16, rotation=90, ha="center", va="center")
ov.text(2597, 2066, "pvalue", fontsize=13.5, fontweight="bold", ha="left", va="center")
ax = px_axes(2597, 2087, 2630, 2281)
ax.imshow(np.linspace(1, 0, 256)[:, None], aspect="auto", cmap=p_cmap, vmin=0, vmax=1)
ax.axis("off")
ov.text(2634, 2137, r"1 × 10$^{\mathbf{4}}$", fontsize=13, fontweight="bold", ha="left", va="center", color="#222222")
ov.text(2634, 2211, r"5 × 10$^{\mathbf{5}}$", fontsize=13, fontweight="bold", ha="left", va="center", color="#222222")
ov.text(2597, 2345, "Count", fontsize=13.5, fontweight="bold", ha="left", va="center")
ov.add_patch(Rectangle((2596, 2364), 54, 295, color="#f0f0f0", lw=0))
for c, ly in zip(count_levels, [2385, 2424, 2466, 2513, 2567, 2628]):
    ov.scatter([2624], [ly], s=(size_by_count[c] * .72) ** 2, c="black", marker=bubble, lw=0)
    ov.text(2664, ly, str(c), fontsize=12.5, ha="center", va="center", color="#333333")

# ---- G
g_pos = {}
for i, name in enumerate(ppi_outer):
    t = np.radians(90 - 12 * i)
    g_pos[name] = (626 + 489 * np.cos(t), 3406 - 480 * np.sin(t))
for i, name in enumerate(ppi_hubs):
    t = np.radians(90 - 60 * i)
    g_pos[name] = (624 + 197 * np.cos(t), 3402 - 192 * np.sin(t))
edge_col = "#bcbce0"
for hub, partners in ppi_hub_links.items():
    for other in partners:
        ov.plot(*zip(g_pos[hub], g_pos[other]), color=edge_col, lw=.9, zorder=2)
for n1, n2 in ppi_other_links:
    ov.plot(*zip(g_pos[n1], g_pos[n2]), color=edge_col, lw=.9, zorder=2)
for name in ppi_outer:
    x, y = g_pos[name]
    ov.add_patch(Ellipse((x, y), 87, 47, facecolor="#78c2d9", edgecolor="none", zorder=3))
    ov.text(x, y, name, fontsize=21, ha="center", va="center", zorder=5)
for name in ppi_hubs:
    x, y = g_pos[name]
    ov.add_patch(Polygon([(x - 42, y), (x, y - 41), (x + 42, y), (x, y + 41)], facecolor="#ec93ba", edgecolor="none", zorder=4))
    ov.text(x, y, name, fontsize=23, ha="center", va="center", zorder=5)


# ---- H
def h_xy(pt):
    return 1400 + pt[0] / 1.193, 2860 + pt[1] / 1.459


for herb, targets in herb_links.items():
    for target in targets:
        ov.plot(*zip(h_xy(herb_nodes[herb]), h_xy(herb_hubs[target])), color="#7cc67c", lw=1.5, zorder=2)
oct_x = np.array([-1, -.62, .62, 1, 1, .62, -.62, -1])
oct_y = np.array([-.3, -1, -1, -.3, .3, 1, 1, .3])
for name, pt in herb_nodes.items():
    x, y = h_xy(pt)
    ov.add_patch(Polygon(np.c_[x + 54 * oct_x, y + 22 * oct_y], facecolor="#b1afdc", edgecolor="none", zorder=3))
    ov.text(x, y, name, fontsize=20.2, ha="center", va="center", zorder=5, color="#111111", linespacing=1.45)
for name, pt in herb_hubs.items():
    x, y = h_xy(pt)
    ov.add_patch(Polygon([(x - 42, y), (x, y - 43), (x + 42, y), (x, y + 43)], facecolor="#ec93ba", edgecolor="none", zorder=4))
    ov.text(x, y, name, fontsize=20, ha="center", va="center", zorder=5, color="#111111")

fig.savefig("out.png", dpi=100)
